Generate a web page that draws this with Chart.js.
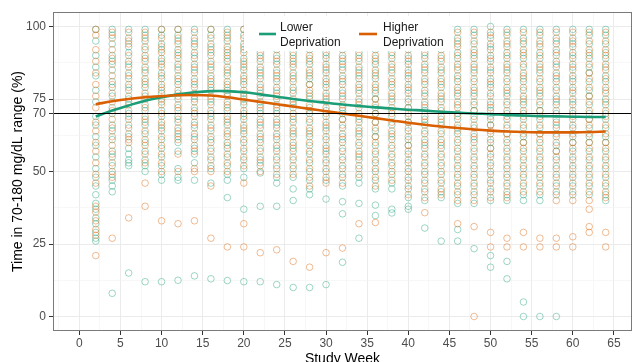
<!DOCTYPE html>
<html lang="en">
<head>
<meta charset="utf-8">
<title>Time in range by study week</title>
<script src="https://cdn.jsdelivr.net/npm/chart.js@4.4.0/dist/chart.umd.min.js"></script>
<style>
    html, body { margin: 0; padding: 0; background: #fff; }
    #wrap { width: 638px; height: 362px; }
</style>
</head>
<body>
<div id="wrap"><canvas id="tirChart" width="638" height="362"></canvas></div>
<script>
// study weeks where readings were taken
var weeks = [2, 4, 6, 8, 10, 12, 14, 16, 18, 20, 22, 24, 26, 28, 30, 32,
             34, 36, 38, 40, 42, 44, 46, 48, 50, 52, 54, 56, 58, 60, 62, 64];

// individual time-in-range values (%), one list per week
var lowerPts = [
    [99, 95, 90, 86, 83, 78, 74, 69, 66, 62, 59, 55, 51, 48, 45, 42, 39, 37, 34, 32, 29, 27, 26],
    [99, 97, 94, 90, 88, 85, 81, 79, 76, 72, 70, 66, 64, 61, 57, 55, 52, 49, 47, 45, 43, 8],
    [99, 96, 93, 91, 88, 86, 83, 80, 78, 75, 73, 70, 68, 65, 62, 58, 56, 54, 53, 52, 15],
    [99, 97, 95, 92, 89, 86, 84, 81, 79, 76, 73, 71, 68, 66, 63, 60, 57, 54, 52, 50, 12],
    [99, 97, 94, 92, 89, 87, 84, 82, 79, 77, 74, 71, 69, 66, 64, 61, 58, 55, 52, 49, 47, 12],
    [99, 97, 95, 92, 90, 87, 85, 82, 80, 77, 75, 72, 69, 67, 64, 62, 60, 57, 51, 48, 47, 12.5],
    [99, 96, 94, 91, 89, 86, 84, 81, 79, 76, 74, 71, 69, 66, 63, 61, 58, 56, 53, 47, 14],
    [99, 97, 94, 92, 90, 87, 85, 82, 80, 78, 75, 73, 70, 68, 65, 62, 60, 57, 54, 51, 46, 13],
    [99, 97, 95, 92, 90, 88, 85, 83, 80, 78, 76, 73, 71, 68, 66, 63, 60, 58, 55, 52, 49, 47, 41, 12.4],
    [99, 97, 94, 92, 89, 87, 85, 82, 80, 77, 75, 73, 70, 68, 65, 63, 60, 57, 54, 51, 48, 37, 12],
    [99, 96, 94, 91, 89, 86, 84, 82, 79, 77, 74, 72, 70, 67, 65, 62, 60, 57, 54, 52, 49.5, 38, 12],
    [99, 97, 94, 92, 89, 87, 84, 82, 79, 77, 75, 72, 70, 67, 65, 62, 59, 57, 54, 51, 48, 46, 38, 11],
    [99, 96, 94, 91, 89, 87, 84, 82, 79, 77, 74, 72, 69, 67, 64, 62, 59, 57, 54, 51, 48, 44, 40, 10],
    [99, 97, 94, 92, 89, 87, 84, 82, 80, 77, 75, 72, 70, 67, 64, 62, 59, 56, 53, 50, 47, 44, 42, 10],
    [99, 96, 94, 91, 89, 86, 84, 81, 79, 76, 74, 71, 69, 66, 64, 61, 58, 56, 53, 50, 47, 40.5, 11],
    [99, 97, 94, 92, 89, 87, 85, 82, 80, 77, 75, 72, 70, 68, 65, 62, 60, 57, 54, 51, 48, 45, 39.6, 35.4, 18.7],
    [99, 96, 94, 91, 89, 86, 84, 82, 79, 77, 74, 72, 69, 67, 64, 62, 59, 56, 54, 51, 48, 46, 39, 27],
    [99, 97, 94, 92, 89, 87, 84, 82, 79, 77, 75, 72, 70, 67, 64, 62, 59, 56, 53, 50, 47, 44, 38.4, 34.8],
    [99, 96, 94, 91, 89, 86, 84, 81, 79, 76, 74, 71, 69, 66, 63, 61, 58, 55, 52, 49, 46, 44, 37, 35.7],
    [99, 97, 94, 92, 89, 87, 84, 82, 79, 77, 74, 72, 69, 67, 64, 61, 59, 56, 53, 50, 47, 44, 41, 38, 37],
    [99, 96, 94, 91, 89, 86, 84, 81, 78, 76, 73, 71, 68, 66, 63, 60, 58, 55, 52, 49, 46, 43, 40, 30.5],
    [99, 97, 94, 92, 89, 86, 84, 81, 79, 76, 74, 71, 68, 66, 63, 60, 58, 55, 52, 49, 46, 43, 41, 26],
    [99, 96, 94, 91, 89, 86, 83, 81, 78, 76, 73, 70, 68, 65, 63, 60, 57, 54, 51, 48, 45, 42, 39, 30, 26],
    [99, 97, 94, 91, 89, 86, 84, 81, 78, 76, 73, 71, 68, 65, 62, 60, 57, 54, 51, 48, 45, 42, 39, 23.4],
    [100, 97, 94, 92, 89, 86, 84, 81, 79, 76, 73, 71, 68, 66, 63, 60, 58, 55, 52, 49, 46, 43, 40, 21, 17],
    [99, 97, 94, 91, 89, 86, 84, 81, 78, 76, 73, 70, 68, 65, 63, 60, 57, 54, 51, 48, 45, 42, 40, 19, 13],
    [99, 96, 94, 91, 89, 86, 83, 81, 78, 75, 73, 70, 68, 65, 62, 60, 57, 54, 51, 48, 45, 42, 40, 5, 0],
    [99, 97, 94, 91, 89, 86, 84, 81, 78, 76, 73, 71, 68, 65, 63, 60, 57, 54, 51, 48, 45, 42, 40, 0],
    [99, 96, 94, 91, 88, 86, 83, 81, 78, 75, 73, 70, 67, 65, 62, 59, 57, 54, 51, 48, 45, 42, 0],
    [99, 96, 94, 91, 89, 86, 83, 81, 78, 75, 73, 70, 68, 65, 62, 60, 57, 54, 51, 48, 45, 42],
    [99, 97, 94, 91, 89, 86, 84, 81, 78, 76, 73, 70, 68, 65, 62, 60, 57, 54, 51, 48, 45, 42],
    [99, 97, 94, 91, 89, 86, 83, 81, 78, 75, 73, 70, 68, 65, 62, 60, 57, 54, 51, 48, 45, 42, 40]
];
var higherPts = [
    [99, 97, 92, 88, 84, 80, 76, 72, 67, 64, 60, 57, 53, 49, 46, 38, 36, 33, 30, 28, 21],
    [98, 96, 92, 89, 87, 83, 80, 77, 74, 71, 68, 65, 62, 59, 56, 53, 50, 48, 27],
    [98, 95, 94, 90, 87, 84, 82, 79, 76, 74, 71, 69, 66, 63, 61, 60, 34],
    [98, 96, 93, 90, 88, 85, 82, 80, 77, 75, 72, 69, 67, 64, 61, 59, 56, 53, 46, 38],
    [99, 96, 93, 91, 88, 86, 83, 80, 78, 75, 73, 70, 67, 65, 62, 59, 56, 53, 50, 33],
    [99, 96, 94, 91, 89, 86, 83, 81, 78, 76, 73, 71, 68, 65, 63, 61, 56, 50, 32],
    [98, 95, 93, 90, 87, 85, 82, 80, 77, 75, 72, 70, 67, 65, 62, 59, 57, 51, 50, 33],
    [99, 96, 93, 91, 88, 86, 83, 81, 79, 76, 74, 71, 69, 66, 64, 61, 58, 55, 52, 50, 45, 27],
    [98, 96, 93, 91, 89, 86, 84, 81, 79, 77, 74, 72, 69, 67, 64, 62, 59, 56, 53, 50, 24],
    [99, 96, 93, 91, 88, 86, 83, 81, 78, 76, 74, 71, 69, 66, 64, 61, 58, 55, 52, 46, 32, 24],
    [98, 95, 93, 90, 88, 85, 83, 80, 78, 76, 73, 71, 68, 66, 63, 61, 58, 55, 53, 50, 22],
    [98, 96, 93, 90, 88, 85, 83, 81, 78, 76, 73, 71, 68, 66, 63, 61, 58, 55, 52, 49, 23],
    [98, 95, 93, 90, 88, 86, 83, 81, 78, 75, 73, 70, 68, 65, 63, 60, 58, 55, 52, 49, 19],
    [98, 95, 93, 90, 88, 85, 83, 80, 78, 76, 73, 71, 68, 65, 63, 60, 57, 54, 51, 48, 45, 17],
    [98, 95, 93, 90, 87, 85, 82, 80, 77, 75, 72, 70, 67, 65, 62, 59, 57, 54, 51, 48, 46, 22],
    [98, 95, 93, 90, 88, 86, 83, 81, 78, 76, 73, 71, 68, 66, 63, 61, 58, 55, 52, 49, 46, 23.6],
    [98, 95, 93, 90, 88, 85, 83, 80, 78, 75, 73, 70, 68, 65, 63, 60, 57, 55, 52, 49, 32],
    [98, 95, 93, 90, 88, 85, 83, 80, 78, 75, 73, 70, 67, 65, 62, 60, 57, 54, 51, 48, 45, 32.4],
    [98, 95, 93, 90, 87, 85, 82, 80, 77, 75, 72, 70, 67, 64, 62, 59, 56, 53, 50, 47],
    [98, 95, 93, 90, 88, 85, 83, 80, 78, 75, 72, 70, 67, 65, 62, 59, 57, 54, 51, 48, 45, 42],
    [98, 95, 93, 90, 87, 85, 82, 80, 77, 74, 72, 69, 67, 64, 61, 59, 56, 53, 50, 47, 44, 41, 35.8],
    [98, 95, 93, 90, 88, 85, 82, 80, 77, 75, 72, 69, 67, 64, 61, 59, 56, 53, 50, 47, 44, 42],
    [98, 95, 93, 90, 87, 85, 82, 79, 77, 74, 72, 69, 66, 64, 61, 58, 55, 52, 49, 46, 43, 40, 32],
    [98, 95, 92, 90, 87, 85, 82, 79, 77, 74, 71, 69, 66, 63, 61, 58, 55, 52, 49, 46, 43, 40, 31, 0],
    [98, 96, 93, 90, 88, 85, 82, 80, 77, 74, 72, 69, 66, 64, 61, 58, 56, 53, 50, 47, 44, 41, 29, 24],
    [98, 95, 93, 90, 87, 85, 82, 79, 77, 74, 71, 69, 66, 63, 61, 58, 55, 52, 49, 46, 43, 41, 27, 24],
    [98, 95, 92, 90, 87, 84, 82, 79, 76, 74, 71, 69, 66, 63, 60, 58, 55, 52, 49, 46, 43, 29, 24],
    [98, 95, 93, 90, 87, 85, 82, 79, 77, 74, 71, 69, 66, 63, 61, 58, 55, 52, 49, 46, 43, 27, 24],
    [98, 95, 92, 90, 87, 84, 82, 79, 76, 74, 71, 68, 66, 63, 60, 57, 55, 52, 49, 46, 43, 40, 27, 24],
    [98, 95, 93, 90, 87, 85, 82, 79, 77, 74, 71, 69, 66, 63, 60, 58, 55, 52, 49, 46, 43, 40, 27.5, 24],
    [98, 95, 92, 90, 87, 84, 82, 79, 76, 74, 71, 68, 66, 63, 60, 58, 55, 52, 49, 46, 43, 40, 37, 31, 29],
    [98, 95, 92, 90, 87, 85, 82, 79, 77, 74, 71, 69, 66, 63, 60, 58, 55, 52, 49, 46, 43, 41, 29, 24]
];

// smoothed trend, one value per week
var lowerSmooth = [69.0, 71.0, 72.8, 74.4, 75.6, 76.6, 77.3, 77.7, 77.7, 77.3, 76.6, 75.8, 75.0, 74.3, 73.7, 73.1,
                   72.6, 72.1, 71.7, 71.3, 71.0, 70.6, 70.3, 70.0, 69.8, 69.5, 69.3, 69.1, 69.0, 68.9, 68.8, 68.8];
var higherSmooth = [73.2, 74.2, 75.0, 75.6, 76.0, 76.3, 76.4, 76.2, 75.6, 74.8, 74.0, 73.2, 72.4, 71.6, 70.8, 70.0,
                    69.2, 68.4, 67.6, 66.8, 66.1, 65.5, 65.0, 64.5, 64.1, 63.8, 63.6, 63.5, 63.5, 63.5, 63.6, 63.8];

var xTicks = [0, 5, 10, 15, 20, 25, 30, 35, 40, 45, 50, 55, 60, 65];
var xMinor = [-2.5, 2.5, 7.5, 12.5, 17.5, 22.5, 27.5, 32.5, 37.5, 42.5, 47.5, 52.5, 57.5, 62.5];
var yTicks = [0, 25, 50, 70, 75, 100];
var yMinor = [12.5, 37.5, 62.5, 87.5];
var targetLine = 70;

var FONT = "'Liberation Sans', Arial, sans-serif";
var TEAL = '#1b9e77';
var ORANGE = '#d95f02';

function toPoints(list) {
    var out = [];
    for (var i = 0; i < weeks.length; i++) {
        for (var j = 0; j < list[i].length; j++) {
            out.push({x: weeks[i], y: list[i][j]});
        }
    }
    return out;
}

function toLine(vals) {
    return weeks.map(function (w, i) { return {x: w, y: vals[i]}; });
}

function buildTicks(major, minor) {
    return major.concat(minor).sort(function (a, b) { return a - b; })
        .map(function (v) { return {value: v}; });
}

function isMajor(list) {
    return function (ctx) { return ctx.tick && list.indexOf(ctx.tick.value) >= 0; };
}

// panel border + legend drawn inside the plot, like the original
var panelPlugin = {
    id: 'panelBits',
    afterDraw: function (chart) {
        var c = chart.ctx, a = chart.chartArea;
        c.save();
        c.strokeStyle = '#7a7a7a';
        c.lineWidth = 1;
        c.strokeRect(a.left + 0.5, a.top + 0.5, a.right - a.left - 1, a.bottom - a.top - 1);

        c.fillStyle = '#fff';
        c.fillRect(244, 16, 208, 35);

        c.lineWidth = 2.6;
        c.strokeStyle = TEAL;
        c.beginPath(); c.moveTo(259, 34); c.lineTo(276, 34); c.stroke();
        c.strokeStyle = ORANGE;
        c.beginPath(); c.moveTo(359, 34); c.lineTo(377, 34); c.stroke();

        c.fillStyle = '#1a1a1a';
        c.font = '12px ' + FONT;
        c.textBaseline = 'middle';
        c.textAlign = 'left';
        c.fillText('Lower', 280, 28);
        c.fillText('Deprivation', 280, 43);
        c.fillText('Higher', 383, 28);
        c.fillText('Deprivation', 383, 43);
        c.restore();
    }
};

var ctx = document.getElementById('tirChart').getContext('2d');
new Chart(ctx, {
    data: {
        datasets: [
            {
                type: 'line',
                data: [{x: -3.2, y: targetLine}, {x: 67.2, y: targetLine}],
                borderColor: '#000',
                borderWidth: 1.2,
                pointRadius: 0,
                order: 0
            },
            {
                type: 'line',
                label: 'Higher Deprivation',
                data: toLine(higherSmooth),
                borderColor: ORANGE,
                borderWidth: 2.6,
                pointRadius: 0,
                tension: 0.4,
                order: 1
            },
            {
                type: 'line',
                label: 'Lower Deprivation',
                data: toLine(lowerSmooth),
                borderColor: TEAL,
                borderWidth: 2.6,
                pointRadius: 0,
                tension: 0.4,
                order: 2
            },
            {
                type: 'scatter',
                data: toPoints(higherPts),
                pointRadius: 3.3,
                pointBorderWidth: 1,
                pointBackgroundColor: 'rgba(0,0,0,0)',
                pointBorderColor: 'rgba(217,95,2,0.42)',
                order: 3
            },
            {
                type: 'scatter',
                data: toPoints(lowerPts),
                pointRadius: 3.3,
                pointBorderWidth: 1,
                pointBackgroundColor: 'rgba(0,0,0,0)',
                pointBorderColor: 'rgba(27,158,119,0.42)',
                order: 4
            }
        ]
    },
    options: {
        responsive: false,
        animation: false,
        events: [],
        layout: {padding: {top: 12, right: 6, left: 0, bottom: 0}},
        plugins: {legend: {display: false}, tooltip: {enabled: false}},
        scales: {
            x: {
                type: 'linear',
                min: -3.2,
                max: 67.2,
                afterBuildTicks: function (s) { s.ticks = buildTicks(xTicks, xMinor); },
                afterFit: function (s) { s.height = 31; },
                border: {display: false},
                grid: {
                    color: function (c) { return isMajor(xTicks)(c) ? '#ebebeb' : '#f2f2f2'; },
                    lineWidth: function (c) { return isMajor(xTicks)(c) ? 1 : 0.6; },
                    tickLength: 4,
                    tickColor: function (c) { return isMajor(xTicks)(c) ? '#333' : 'rgba(0,0,0,0)'; }
                },
                ticks: {
                    autoSkip: false,
                    maxRotation: 0,
                    padding: 1,
                    color: '#4d4d4d',
                    font: {family: FONT, size: 12},
                    callback: function (v) { return xTicks.indexOf(v) >= 0 ? String(v) : ''; }
                },
                title: {
                    display: true,
                    text: 'Study Week',
                    color: '#000',
                    padding: 0,
                    font: {family: FONT, size: 14, lineHeight: 0.4}
                }
            },
            y: {
                type: 'linear',
                min: -5,
                max: 105,
                afterBuildTicks: function (s) { s.ticks = buildTicks(yTicks, yMinor); },
                afterFit: function (s) { s.width = 53; },
                border: {display: false},
                grid: {
                    color: function (c) { return isMajor(yTicks)(c) ? '#ebebeb' : '#f2f2f2'; },
                    lineWidth: function (c) { return isMajor(yTicks)(c) ? 1 : 0.6; },
                    tickLength: 4,
                    tickColor: function (c) { return isMajor(yTicks)(c) ? '#333' : 'rgba(0,0,0,0)'; }
                },
                ticks: {
                    autoSkip: false,
                    padding: 3,
                    color: '#4d4d4d',
                    font: {family: FONT, size: 12},
                    callback: function (v) { return yTicks.indexOf(v) >= 0 ? String(v) : ''; }
                },
                title: {
                    display: true,
                    text: 'Time in 70-180 mg/dL range (%)',
                    color: '#000',
                    padding: {top: 10, bottom: 0},
                    font: {family: FONT, size: 14}
                }
            }
        }
    },
    plugins: [panelPlugin]
});
</script>
</body>
</html>
